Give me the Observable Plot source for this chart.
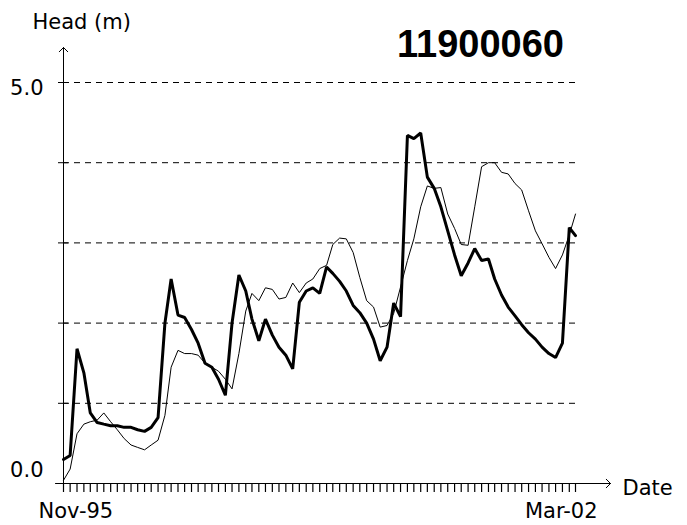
<!DOCTYPE html>
<html>
<head>
<meta charset="utf-8">
<script src="https://cdn.jsdelivr.net/npm/d3@7"></script>
<script src="https://cdn.jsdelivr.net/npm/@observablehq/plot@0.6"></script>
<style>
  html, body { margin: 0; padding: 0; background: #fff; }
  #chart svg { display: block; }
</style>
</head>
<body>
<div id="chart"></div>
<script>
// Monthly groundwater heads, bore 11900060, Nov-1995 to Mar-2002
const title = "11900060";
const yAxisTitle = "Head (m)";
const xAxisTitle = "Date";
const yTickLabels = [{v: 0, label: "0.0"}, {v: 5, label: "5.0"}];
const xTickLabels = ["Nov-95", "Mar-02"];
const gridValues = [1, 2, 3, 4, 5];
const yTickValues = [0, 1, 2, 3, 4, 5];

const startMonth = new Date(Date.UTC(1995, 10, 1));
const endMonth = new Date(Date.UTC(2002, 2, 1));
const months = d3.utcMonth.range(startMonth, d3.utcMonth.offset(endMonth, 1));

// observed head (thick line)
const observed = [
  0.30, 0.35, 1.68, 1.38, 0.88, 0.76, 0.74, 0.72, 0.72, 0.70,
  0.70, 0.67, 0.65, 0.70, 0.82, 2.00, 2.55, 2.10, 2.07, 1.92,
  1.75, 1.50, 1.45, 1.30, 1.10, 2.00, 2.60, 2.40, 2.05, 1.78,
  2.05, 1.85, 1.70, 1.60, 1.43, 2.26, 2.40, 2.44, 2.37, 2.70,
  2.62, 2.52, 2.40, 2.22, 2.13, 2.00, 1.80, 1.53, 1.70, 2.25,
  2.08, 4.34, 4.30, 4.37, 3.82, 3.68, 3.45, 3.15, 2.85, 2.59,
  2.75, 2.93, 2.78, 2.80, 2.55, 2.35, 2.20, 2.09, 1.98, 1.88,
  1.80, 1.70, 1.62, 1.57, 1.75, 3.19, 3.09
];

// modelled head (thin line)
const modelled = [
  0.04, 0.18, 0.62, 0.74, 0.77, 0.79, 0.88, 0.77, 0.67, 0.56,
  0.48, 0.45, 0.42, 0.48, 0.54, 0.85, 1.45, 1.66, 1.62, 1.62,
  1.60, 1.50, 1.45, 1.40, 1.30, 1.18, 1.62, 2.15, 2.37, 2.28,
  2.44, 2.42, 2.30, 2.32, 2.50, 2.38, 2.50, 2.55, 2.68, 2.72,
  2.98, 3.06, 3.05, 2.88, 2.57, 2.28, 2.20, 1.95, 1.97, 2.12,
  2.45, 2.78, 3.05, 3.45, 3.71, 3.68, 3.69, 3.36, 3.18, 2.98,
  2.97, 3.45, 3.95, 4.00, 4.00, 3.88, 3.86, 3.74, 3.66, 3.40,
  3.15, 2.99, 2.82, 2.68, 2.85, 3.10, 3.36
];

const obsRows = months.map((d, i) => ({date: d, head: observed[i]}));
const modRows = months.map((d, i) => ({date: d, head: modelled[i]}));

const labelFont = "DejaVu Sans";

const chart = Plot.plot({
  width: 687,
  height: 525,
  marginLeft: 63,
  marginRight: 112,
  marginTop: 82,
  marginBottom: 42,
  style: {background: "#fff", color: "#000", overflow: "visible"},
  x: {type: "utc", domain: [startMonth, endMonth], axis: null},
  y: {domain: [0, 5], axis: null},
  marks: [
    // dashed horizontal gridlines
    Plot.ruleY(gridValues, {x1: startMonth, x2: endMonth, stroke: "#000", strokeWidth: 1, strokeDasharray: "6,5"}),
    // small ticks straddling the vertical axis
    Plot.axisY(yTickValues, {anchor: "left", tickSize: 10, dx: 5, tickFormat: () => "", stroke: "#000", strokeWidth: 1}),
    // monthly ticks hanging below the date axis
    Plot.axisX(months, {anchor: "bottom", tickSize: 9, tickFormat: () => "", stroke: "#000", strokeWidth: 1.2}),
    // axis lines with open arrowheads
    Plot.arrow([0], {x1: startMonth, y1: 0, x2: endMonth, y2: 0, insetStart: -8, insetEnd: -35, headLength: 9, headAngle: 90, stroke: "#000", strokeWidth: 1}),
    Plot.arrow([0], {x1: startMonth, y1: 0, x2: startMonth, y2: 5, insetStart: 0, insetEnd: -35, headLength: 9, headAngle: 90, stroke: "#000", strokeWidth: 1}),
    // series
    Plot.line(modRows, {x: "date", y: "head", stroke: "#000", strokeWidth: 1, curve: "linear"}),
    Plot.line(obsRows, {x: "date", y: "head", stroke: "#000", strokeWidth: 3, curve: "linear", strokeLinejoin: "miter"}),
    // y tick labels
    Plot.text(yTickLabels.filter(d => d.v === 5), {x: startMonth, y: "v", text: "label", textAnchor: "end", dx: -20, dy: 6, fontFamily: labelFont, fontSize: 21, fill: "#000"}),
    Plot.text(yTickLabels.filter(d => d.v === 0), {x: startMonth, y: "v", text: "label", textAnchor: "end", dx: -20, dy: -13, fontFamily: labelFont, fontSize: 21, fill: "#000"}),
    // x tick labels
    Plot.text([xTickLabels[0]], {x: startMonth, y: 0, text: d => d, textAnchor: "start", dx: -25, dy: 28, fontFamily: labelFont, fontSize: 21, fill: "#000"}),
    Plot.text([xTickLabels[1]], {x: endMonth, y: 0, text: d => d, textAnchor: "end", dx: 22, dy: 28, fontFamily: labelFont, fontSize: 21, fill: "#000"}),
    // axis titles
    Plot.text([yAxisTitle], {frameAnchor: "top-left", text: d => d, textAnchor: "start", lineAnchor: "middle", dx: -31, dy: -60, fontFamily: labelFont, fontSize: 21, fill: "#000"}),
    Plot.text([xAxisTitle], {frameAnchor: "bottom-right", text: d => d, textAnchor: "start", lineAnchor: "middle", dx: 47, dy: 5, fontFamily: labelFont, fontSize: 21, fill: "#000"}),
    // station title
    Plot.text([title], {frameAnchor: "top-left", text: d => d, textAnchor: "middle", lineAnchor: "middle", dx: 417, dy: -38, fontFamily: "Liberation Sans", fontWeight: "bold", fontSize: 38, fill: "#000"})
  ]
});

document.getElementById("chart").appendChild(chart);
</script>
</body>
</html>
